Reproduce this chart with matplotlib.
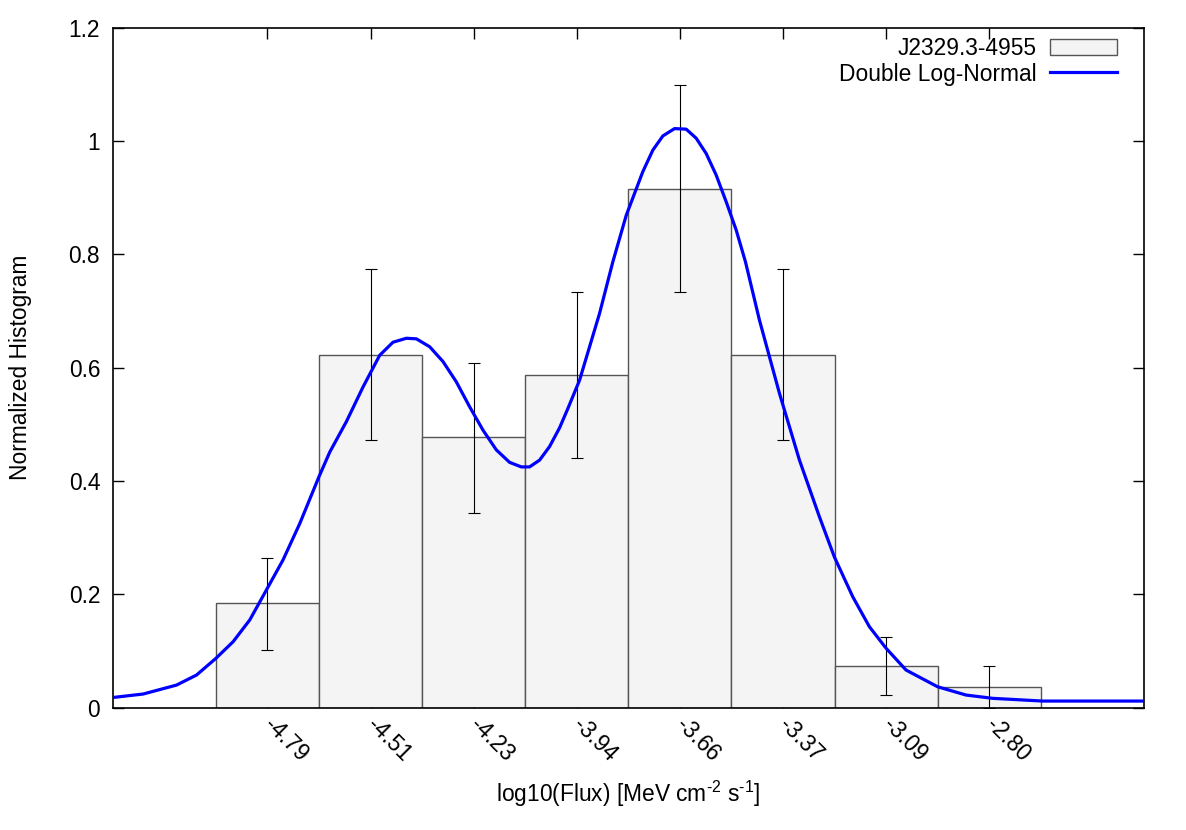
#!/usr/bin/env python3
import matplotlib
matplotlib.use('Agg')
import matplotlib.pyplot as plt

# histogram bins (log10 flux)
bin_centers = [-4.795, -4.510, -4.225, -3.940, -3.655, -3.370, -3.085, -2.800]
bin_labels = ['-4.79', '-4.51', '-4.23', '-3.94', '-3.66', '-3.37', '-3.09', '-2.80']
bin_width = 0.285
hist_values = [0.184, 0.623, 0.477, 0.587, 0.916, 0.623, 0.074, 0.037]
err_low = [0.102, 0.472, 0.344, 0.440, 0.733, 0.472, 0.022, 0.0]
err_high = [0.265, 0.774, 0.608, 0.733, 1.099, 0.774, 0.125, 0.074]

# fitted double log-normal curve
curve_x = [-5.2228, -5.1383, -5.0460, -4.9908, -4.9375, -4.8897, -4.8436, -4.7975,
           -4.7516, -4.7055, -4.6522, -4.6227, -4.5766, -4.5307, -4.4846, -4.4479,
           -4.4109, -4.3832, -4.3465, -4.3098, -4.2728, -4.2360, -4.1993, -4.1623,
           -4.1256, -4.0933, -4.0704, -4.0427, -4.0151, -3.9875, -3.9646, -3.9323,
           -3.8770, -3.8403, -3.8033, -3.7575, -3.7298, -3.7022, -3.6699, -3.6376,
           -3.6100, -3.5824, -3.5548, -3.5272, -3.4995, -3.4739, -3.4352, -3.3800,
           -3.3247, -3.2695, -3.2281, -3.1775, -3.1314, -3.0853, -3.0301, -2.9428,
           -2.8644, -2.7909, -2.6528, -2.3725]
curve_y = [0.0180, 0.0242, 0.040, 0.0577, 0.087, 0.1165, 0.155, 0.208,
           0.261, 0.325, 0.408, 0.451, 0.505, 0.566, 0.622, 0.645,
           0.652, 0.651, 0.637, 0.611, 0.575, 0.531, 0.490, 0.455,
           0.433, 0.425, 0.425, 0.437, 0.461, 0.494, 0.528, 0.578,
           0.696, 0.787, 0.869, 0.946, 0.984, 1.009, 1.022, 1.021,
           1.005, 0.978, 0.940, 0.893, 0.843, 0.787, 0.684, 0.555,
           0.437, 0.337, 0.266, 0.196, 0.143, 0.105, 0.0665, 0.037,
           0.0224, 0.0166, 0.0118, 0.0118]

plt.rcParams['font.family'] = ['Liberation Sans', 'DejaVu Sans']
plt.rcParams['font.size'] = 16.4
plt.rcParams['mathtext.fontset'] = 'custom'
plt.rcParams['mathtext.rm'] = 'Liberation Sans'

fig = plt.figure(figsize=(11.86, 8.30), dpi=100)
ax = fig.add_axes([0.0950, 0.1473, 0.8696, 0.8193])

yerr = [[v - lo for v, lo in zip(hist_values, err_low)],
        [hi - v for v, hi in zip(hist_values, err_high)]]

ax.bar(bin_centers, hist_values, width=bin_width, color='#f4f4f4',
       edgecolor='#555555', linewidth=1.0, label='J2329.3-4955', zorder=2)
ax.errorbar(bin_centers, hist_values, yerr=yerr, fmt='none', ecolor='black',
            elinewidth=0.8, capsize=4, capthick=0.8, zorder=3)
ax.plot(curve_x, curve_y, color='#0000ff', linewidth=2.3,
        label='Double Log-Normal', zorder=4)

ax.set_xlim(bin_centers[0] - 1.5 * bin_width, bin_centers[-1] + 1.5 * bin_width)
ax.set_ylim(0, 1.2)
ax.set_yticks([0, 0.2, 0.4, 0.6, 0.8, 1.0, 1.2])
ax.set_yticklabels(['0', '0.2', '0.4', '0.6', '0.8', '1', '1.2'])
ax.set_xticks(bin_centers)
ax.set_xticklabels(bin_labels, rotation=-45, ha='left', va='center',
                   rotation_mode='anchor')

ax.tick_params(direction='in', length=8, width=1, top=True, right=True, pad=9)
ax.tick_params(axis='x', pad=10)
for sp in ax.spines.values():
    sp.set_linewidth(1.2)

ax.set_xlabel(r'log10(Flux) [MeV cm$^{\text{-2}}$ s$^{\text{-1}}$]', va='center')
ax.xaxis.set_label_coords(0.5, -0.127)
ax.set_ylabel('Normalized Histogram', va='center')
ax.yaxis.set_label_coords(-0.0895, 0.5)

handles, labels = ax.get_legend_handles_labels()
order = [labels.index('J2329.3-4955'), labels.index('Double Log-Normal')]
leg = ax.legend([handles[i] for i in order], [labels[i] for i in order],
                loc='upper right', bbox_to_anchor=(0.9825, 1.0), borderaxespad=0,
                frameon=False, markerfirst=False, handlelength=2.94,
                handleheight=0.75, handletextpad=0.6, labelspacing=0.12)
for t in leg.get_texts():
    t.set_ha('right')

fig.savefig('out.png', dpi=100)
